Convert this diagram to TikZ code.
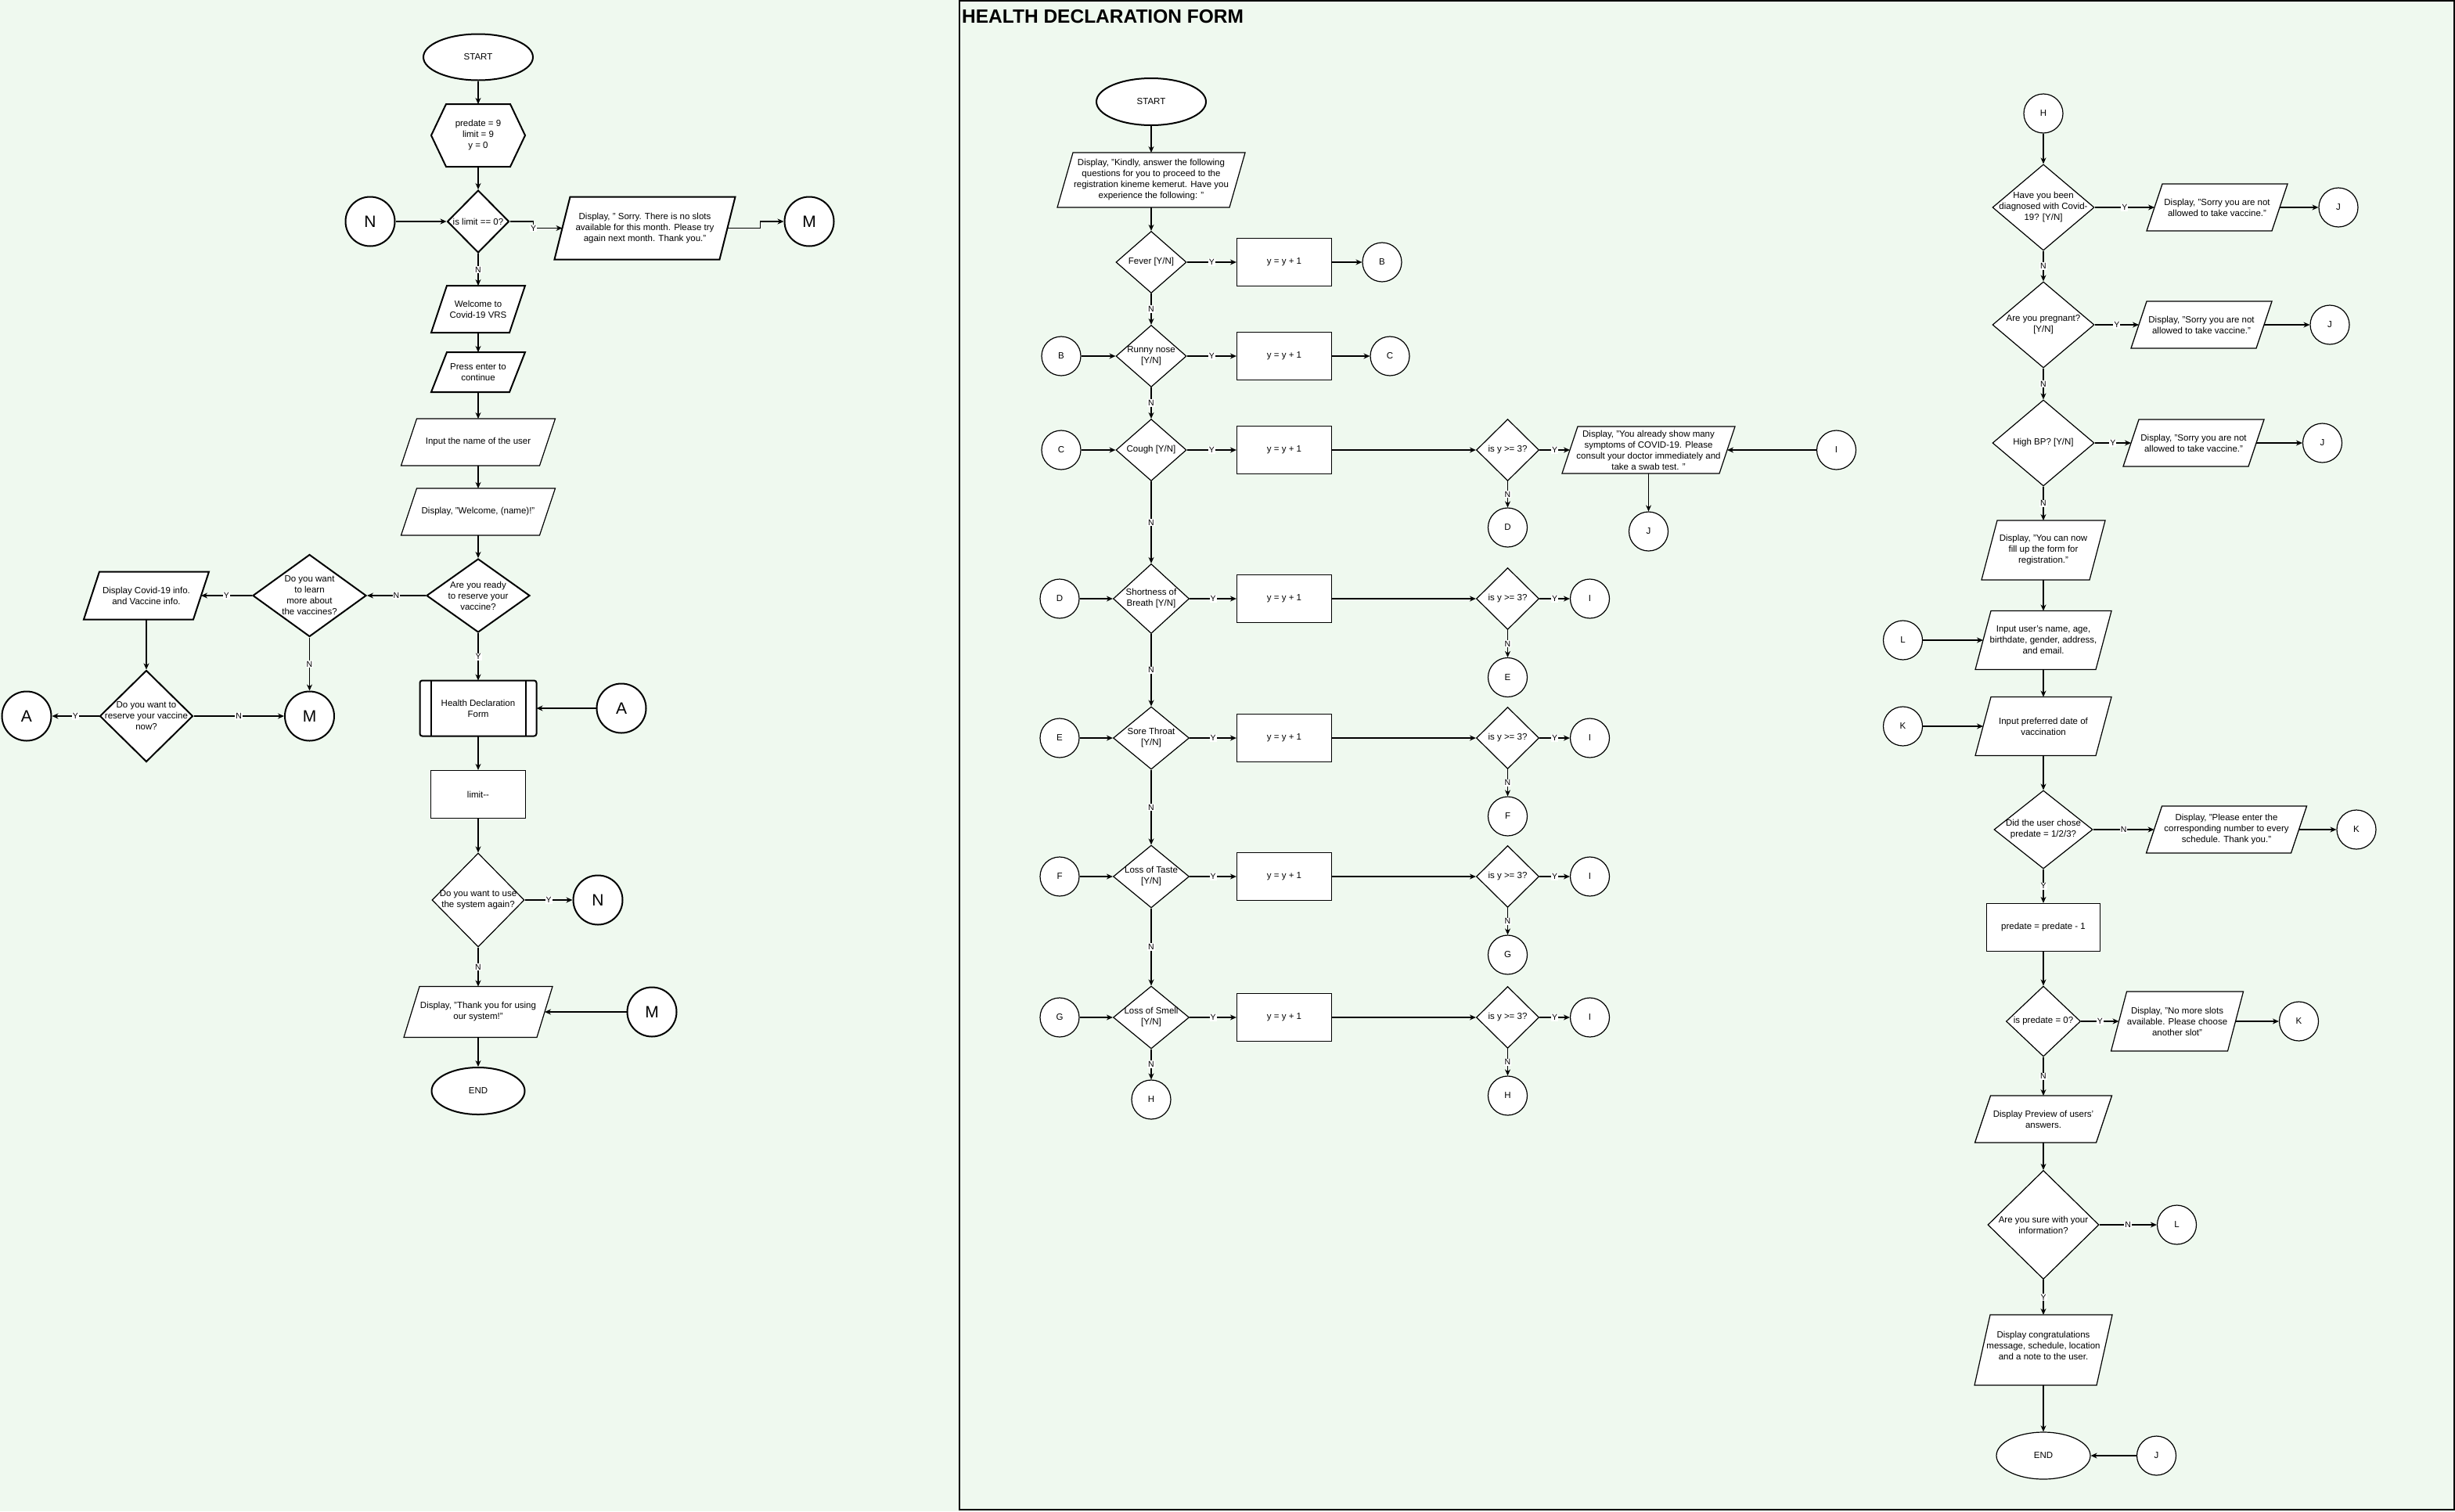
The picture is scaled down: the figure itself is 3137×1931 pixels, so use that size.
\documentclass[tikz,border=0pt]{standalone}
\usepackage{fontspec}
\setmainfont{Liberation Sans}
\usepackage{tikz}
\usetikzlibrary{shapes.geometric,arrows.meta}

\definecolor{pagebg}{RGB}{239,249,239}

\newcommand{\fsm}{\fontsize{11.5}{14}\selectfont}
\newcommand{\fbig}{\fontsize{21}{24}\selectfont}
\newcommand{\flbl}{\fontsize{10.5}{12}\selectfont}

%parallelogram: name, x, y, width, height, style, text
\newcommand{\iobox}[7]{%
  \draw[#6] (#2-#4/2,#3+#5/2) -- ++(#4-20,0) -- ++(20,-#5) -- ++(20-#4,0) -- cycle;
  \node[iohold,minimum width=#4-20,minimum height=#5,label={[txt]center:{#7}}] (#1) at (#2,#3) {};
}

\begin{document}
\begin{tikzpicture}[x=1pt,y=1pt,yscale=-1,
  shp/.style={draw,fill=white,line width=1.2pt},
  thk/.style={line width=2pt},
  txt/.style={align=center,font=\fsm,inner sep=0pt},
  iohold/.style={rectangle,inner sep=0pt,outer sep=0pt},
  term/.style={shp,ellipse,inner sep=0pt,font=\fsm},
  proc/.style={shp,rectangle,inner sep=0pt,font=\fsm,align=center},
  dia/.style={shp,diamond,inner sep=0pt},
  con/.style={shp,circle,minimum size=50,inner sep=0pt,font=\fsm},
  bigcon/.style={shp,thk,circle,minimum size=63,inner sep=0pt,font=\fbig},
  arr/.style={-{Stealth[length=8pt,width=7pt]},line width=1.2pt},
  lbl/.style={fill=white,inner sep=1pt,font=\flbl}]

\useasboundingbox (0,0) rectangle (3137,1931);
\fill[pagebg] (0,0) rectangle (3137,1931);

%%%%%%%%%% main program
\node[term,thk,minimum width=140,minimum height=59] (lstart) at (611,73) {START};

%Shape: Hexagon
\draw[shp,thk] (551,173) -- (570,133) -- (652,133) -- (671,173) -- (652,213) -- (570,213) -- cycle;
\node[iohold,txt,minimum width=120,minimum height=80] (init) at (611,173) {predate = 9\\limit = 9\\y = 0};

\node[dia,thk,minimum width=79,minimum height=80,label={[txt]center:{is limit == 0?}}] (qlimit) at (611,283) {};
\node[bigcon] (cn1) at (473,283) {N};
\iobox{nosl}{824}{291.5}{231}{80}{shp,thk}{Display, " Sorry. There is no slots\\available for this month. Please try\\again next month. Thank you."}
\node[bigcon] (cm1) at (1034,283) {M};

\iobox{welc}{611}{395}{120}{60}{shp,thk}{Welcome to\\Covid-19 VRS}
\iobox{press}{611}{475.5}{120}{51}{shp,thk}{Press enter to\\continue}
\iobox{inname}{611}{565}{197}{60}{shp}{Input the name of the user}
\iobox{showname}{611}{654}{197}{60}{shp}{Display, "Welcome, (name)!"}

\node[dia,thk,minimum width=132,minimum height=94,label={[txt]center:{Are you ready\\to reserve your\\vaccine?}}] (qready) at (611,761) {};
\node[dia,thk,minimum width=145,minimum height=105,label={[txt]center:{Do you want\\to learn\\more about\\the vaccines?}}] (qlearn) at (395.5,761) {};
\iobox{info}{187}{761}{160}{61}{shp,thk}{Display Covid-19 info.\\and Vaccine info.}
\node[dia,thk,minimum width=119,minimum height=117,label={[txt]center:{Do you want to\\reserve your vaccine\\now?}}] (qnow) at (187,915) {};
\node[bigcon] (ca1) at (34,915) {A};
\node[bigcon] (cm2) at (395.5,915) {M};

%Shape: Predefined process
\node[proc,thk,rounded corners=3,outer sep=0pt,minimum width=149,minimum height=71] (hdf) at (611,905) {Health Declaration\\Form};
\draw[thk] ([xshift=14]hdf.north west) -- ([xshift=14]hdf.south west);
\draw[thk] ([xshift=-14]hdf.north east) -- ([xshift=-14]hdf.south east);
\node[bigcon] (ca2) at (794,905) {A};

\node[proc,minimum width=121,minimum height=61] (ldec) at (611,1015) {limit-{}-};
\node[dia,minimum width=118,minimum height=120,label={[txt]center:{Do you want to use\\the system again?}}] (qagain) at (611,1150) {};
\node[bigcon] (cn2) at (764,1150) {N};
\iobox{thanks}{611}{1293}{190}{65}{shp}{Display, "Thank you for using\\our system!"}
\node[bigcon] (cm3) at (833,1293) {M};
\node[term,thk,minimum width=119,minimum height=60] (lend) at (611,1394) {END};

%Straight Lines
\draw[arr] (lstart) -- (init);
\draw[arr] (init) -- (qlimit);
\draw[arr] (cn1) -- (qlimit);
\draw[arr] (qlimit.east) -- ++(30,0) |- node[lbl]{Y} (nosl.west);
\draw[arr] (nosl.east) -- ++(42,0) |- (cm1.west);
\draw[arr] (qlimit) -- node[lbl]{N} (welc);
\draw[arr] (welc) -- (press);
\draw[arr] (press) -- (inname);
\draw[arr] (inname) -- (showname);
\draw[arr] (showname) -- (qready);
\draw[arr] (qready) -- node[lbl]{N} (qlearn);
\draw[arr] (qlearn) -- node[lbl]{Y} (info);
\draw[arr] (qlearn) -- node[lbl]{N} (cm2);
\draw[arr] (info) -- (qnow);
\draw[arr] (qnow) -- node[lbl]{Y} (ca1);
\draw[arr] (qnow) -- node[lbl]{N} (cm2);
\draw[arr] (qready) -- node[lbl]{Y} (hdf);
\draw[arr] (ca2) -- (hdf);
\draw[arr] (hdf) -- (ldec);
\draw[arr] (ldec) -- (qagain);
\draw[arr] (qagain) -- node[lbl]{Y} (cn2);
\draw[arr] (qagain) -- node[lbl]{N} (thanks);
\draw[arr] (cm3) -- (thanks);
\draw[arr] (thanks) -- (lend);

%%%%%%%%%% health declaration form
\draw[line width=1.5pt] (1226,0.75) rectangle (3136,1929);
% Text Node
\node[anchor=west,inner sep=0pt,font=\bfseries\fontsize{24.5}{28}\selectfont] (title) at (1229,21) {HEALTH DECLARATION FORM};

\node[term,thk,minimum width=140,minimum height=60] (hstart) at (1471,130) {START};
\iobox{kindly}{1471}{230}{240}{70}{shp}{Display, "Kindly, answer the following\\questions for you to proceed to the\\registration kineme kemerut. Have you\\experience the following: "}

% fever
\node[dia,minimum width=90,minimum height=79,label={[txt]center:{Fever [Y/N]}}] (qfever) at (1471,335) {};
\node[proc,minimum width=121,minimum height=61] (inc1) at (1641,335) {y = y + 1};
\node[con] (cb1) at (1766,335) {B};
% runny nose
\node[con] (cb2) at (1356,455) {B};
\node[dia,minimum width=90,minimum height=79,label={[txt]center:{Runny nose\\{}[Y/N]}}] (qrunny) at (1471,455) {};
\node[proc,minimum width=121,minimum height=61] (inc2) at (1641,455) {y = y + 1};
\node[con] (cc1) at (1776,455) {C};
% cough
\node[con] (cc2) at (1356,575) {C};
\node[dia,minimum width=90,minimum height=79,label={[txt]center:{Cough [Y/N]}}] (qcough) at (1471,575) {};
\node[proc,minimum width=121,minimum height=61] (inc3) at (1641,575) {y = y + 1};
\node[dia,minimum width=80,minimum height=79,label={[txt]center:{is y >= 3?}}] (qy1) at (1926.5,575) {};
\node[con] (cd1) at (1926.5,674) {D};
\iobox{many}{2106.5}{575}{221}{60}{shp}{Display, "You already show many\\symptoms of COVID-19. Please\\consult your doctor immediately and\\take a swab test. "}
\node[con] (cj0) at (2106.5,679) {J};
\node[con] (ci0) at (2346.5,575) {I};
% shortness of breath
\node[con] (cd2) at (1354,765) {D};
\node[dia,minimum width=97,minimum height=89,label={[txt]center:{Shortness of\\Breath [Y/N]}}] (qbreath) at (1471,765) {};
\node[proc,minimum width=121,minimum height=61] (inc4) at (1641,765) {y = y + 1};
\node[dia,minimum width=80,minimum height=79,label={[txt]center:{is y >= 3?}}] (qy2) at (1926.5,765) {};
\node[con] (ci1) at (2031.5,765) {I};
\node[con] (ce1) at (1926.5,865.5) {E};
% sore throat
\node[con] (ce2) at (1354,943) {E};
\node[dia,minimum width=97,minimum height=80,label={[txt]center:{Sore Throat\\{}[Y/N]}}] (qsore) at (1471,943) {};
\node[proc,minimum width=121,minimum height=61] (inc5) at (1641,943) {y = y + 1};
\node[dia,minimum width=80,minimum height=79,label={[txt]center:{is y >= 3?}}] (qy3) at (1926.5,943) {};
\node[con] (ci2) at (2031.5,943) {I};
\node[con] (cf1) at (1926.5,1043) {F};
% loss of taste
\node[con] (cf2) at (1354,1120) {F};
\node[dia,minimum width=97,minimum height=80,label={[txt]center:{Loss of Taste\\{}[Y/N]}}] (qtaste) at (1471,1120) {};
\node[proc,minimum width=121,minimum height=61] (inc6) at (1641,1120) {y = y + 1};
\node[dia,minimum width=80,minimum height=79,label={[txt]center:{is y >= 3?}}] (qy4) at (1926.5,1120) {};
\node[con] (ci3) at (2031.5,1120) {I};
\node[con] (cg1) at (1926.5,1220) {G};
% loss of smell
\node[con] (cg2) at (1354,1300) {G};
\node[dia,minimum width=97,minimum height=80,label={[txt]center:{Loss of Smell\\{}[Y/N]}}] (qsmell) at (1471,1300) {};
\node[proc,minimum width=121,minimum height=61] (inc7) at (1641,1300) {y = y + 1};
\node[dia,minimum width=80,minimum height=79,label={[txt]center:{is y >= 3?}}] (qy5) at (1926.5,1300) {};
\node[con] (ci4) at (2031.5,1300) {I};
\node[con] (ch1) at (1926.5,1400) {H};
\node[con] (ch2) at (1471,1405) {H};

%Straight Lines
\draw[arr] (hstart) -- (kindly);
\draw[arr] (kindly) -- (qfever);
\draw[arr] (qfever) -- node[lbl]{Y} (inc1);
\draw[arr] (inc1) -- (cb1);
\draw[arr] (qfever) -- node[lbl]{N} (qrunny);
\draw[arr] (cb2) -- (qrunny);
\draw[arr] (qrunny) -- node[lbl]{Y} (inc2);
\draw[arr] (inc2) -- (cc1);
\draw[arr] (qrunny) -- node[lbl]{N} (qcough);
\draw[arr] (cc2) -- (qcough);
\draw[arr] (qcough) -- node[lbl]{Y} (inc3);
\draw[arr] (inc3) -- (qy1);
\draw[arr] (qy1) -- node[lbl]{Y} (many);
\draw[arr] (qy1) -- node[lbl]{N} (cd1);
\draw[arr] (ci0) -- (many);
\draw[arr] (many) -- (cj0);
\draw[arr] (qcough) -- node[lbl]{N} (qbreath);
\draw[arr] (cd2) -- (qbreath);
\draw[arr] (qbreath) -- node[lbl]{Y} (inc4);
\draw[arr] (inc4) -- (qy2);
\draw[arr] (qy2) -- node[lbl]{Y} (ci1);
\draw[arr] (qy2) -- node[lbl]{N} (ce1);
\draw[arr] (qbreath) -- node[lbl]{N} (qsore);
\draw[arr] (ce2) -- (qsore);
\draw[arr] (qsore) -- node[lbl]{Y} (inc5);
\draw[arr] (inc5) -- (qy3);
\draw[arr] (qy3) -- node[lbl]{Y} (ci2);
\draw[arr] (qy3) -- node[lbl]{N} (cf1);
\draw[arr] (qsore) -- node[lbl]{N} (qtaste);
\draw[arr] (cf2) -- (qtaste);
\draw[arr] (qtaste) -- node[lbl]{Y} (inc6);
\draw[arr] (inc6) -- (qy4);
\draw[arr] (qy4) -- node[lbl]{Y} (ci3);
\draw[arr] (qy4) -- node[lbl]{N} (cg1);
\draw[arr] (qtaste) -- node[lbl]{N} (qsmell);
\draw[arr] (cg2) -- (qsmell);
\draw[arr] (qsmell) -- node[lbl]{Y} (inc7);
\draw[arr] (inc7) -- (qy5);
\draw[arr] (qy5) -- node[lbl]{Y} (ci4);
\draw[arr] (qy5) -- node[lbl]{N} (ch1);
\draw[arr] (qsmell) -- node[lbl]{N} (ch2);

%%%%%%%%%% eligibility and registration
\node[con] (ch3) at (2611,145) {H};
\node[dia,minimum width=130,minimum height=110,label={[txt]center:{Have you been\\diagnosed with Covid-\\19? [Y/N]}}] (qcovid) at (2611,265) {};
\iobox{sorry1}{2833}{265}{180}{60}{shp}{Display, "Sorry you are not\\allowed to take vaccine."}
\node[con] (cj1) at (2988,265) {J};
\node[dia,minimum width=130,minimum height=110,label={[txt]center:{Are you pregnant?\\{}[Y/N]}}] (qpreg) at (2611,415) {};
\iobox{sorry2}{2813}{415}{180}{60}{shp}{Display, "Sorry you are not\\allowed to take vaccine."}
\node[con] (cj2) at (2977,415) {J};
\node[dia,minimum width=130,minimum height=110,label={[txt]center:{High BP? [Y/N]}}] (qbp) at (2611,566) {};
\iobox{sorry3}{2803}{566}{180}{60}{shp}{Display, "Sorry you are not\\allowed to take vaccine."}
\node[con] (cj3) at (2967.5,566) {J};
\iobox{canfill}{2611}{703}{158}{76}{shp}{Display, "You can now\\fill up the form for\\registration."}
\iobox{userinfo}{2611}{818}{174}{75}{shp}{Input user's name, age,\\birthdate, gender, address,\\and email.}
\node[con] (cl1) at (2431.5,818) {L};
\iobox{prefdate}{2611}{928}{174}{75}{shp}{Input preferred date of\\vaccination}
\node[con] (ck1) at (2431.5,928) {K};
\node[dia,minimum width=126,minimum height=100,label={[txt]center:{Did the user chose\\predate = 1/2/3?}}] (qchose) at (2611,1060) {};
\iobox{please}{2845}{1060}{205}{60}{shp}{Display, "Please enter the\\corresponding number to every\\schedule. Thank you."}
\node[con] (ck2) at (3011,1060) {K};
\node[proc,minimum width=145,minimum height=61] (predec) at (2611,1185) {predate = predate - 1};
\node[dia,minimum width=95,minimum height=90,label={[txt]center:{is predate = 0?}}] (qzero) at (2611,1305) {};
\iobox{nomore}{2782}{1305}{169}{76}{shp}{Display, "No more slots\\available. Please choose\\another slot"}
\node[con] (ck3) at (2937.5,1305) {K};
\iobox{preview}{2611}{1430}{175}{60}{shp}{Display Preview of users'\\answers.}
\node[dia,minimum width=142,minimum height=139,label={[txt]center:{Are you sure with your\\information?}}] (qsure) at (2611,1565) {};
\node[con] (cl2) at (2781.5,1565) {L};
\draw[shp] (2523,1770) -- ++(156,0) -- ++(20,-90) -- ++(-156,0) -- cycle;
\node[iohold,minimum width=156,minimum height=90,label={[txt,yshift=6pt]center:{Display congratulations\\message, schedule, location\\and a note to the user.}}] (congrats) at (2611,1725) {};
\node[term,minimum width=120,minimum height=60] (rend) at (2611,1860) {END};
\node[con] (cj4) at (2755.5,1860) {J};

%Straight Lines
\draw[arr] (ch3) -- (qcovid);
\draw[arr] (qcovid) -- node[lbl]{Y} (sorry1);
\draw[arr] (sorry1) -- (cj1);
\draw[arr] (qcovid) -- node[lbl]{N} (qpreg);
\draw[arr] (qpreg) -- node[lbl]{Y} (sorry2);
\draw[arr] (sorry2) -- (cj2);
\draw[arr] (qpreg) -- node[lbl]{N} (qbp);
\draw[arr] (qbp) -- node[lbl]{Y} (sorry3);
\draw[arr] (sorry3) -- (cj3);
\draw[arr] (qbp) -- node[lbl]{N} (canfill);
\draw[arr] (canfill) -- (userinfo);
\draw[arr] (cl1) -- (userinfo);
\draw[arr] (userinfo) -- (prefdate);
\draw[arr] (ck1) -- (prefdate);
\draw[arr] (prefdate) -- (qchose);
\draw[arr] (qchose) -- node[lbl]{N} (please);
\draw[arr] (please) -- (ck2);
\draw[arr] (qchose) -- node[lbl]{Y} (predec);
\draw[arr] (predec) -- (qzero);
\draw[arr] (qzero) -- node[lbl]{Y} (nomore);
\draw[arr] (nomore) -- (ck3);
\draw[arr] (qzero) -- node[lbl]{N} (preview);
\draw[arr] (preview) -- (qsure);
\draw[arr] (qsure) -- node[lbl]{N} (cl2);
\draw[arr] (qsure) -- node[lbl]{Y} (congrats);
\draw[arr] (congrats) -- (rend);
\draw[arr] (cj4) -- (rend);

\end{tikzpicture}
\end{document}
